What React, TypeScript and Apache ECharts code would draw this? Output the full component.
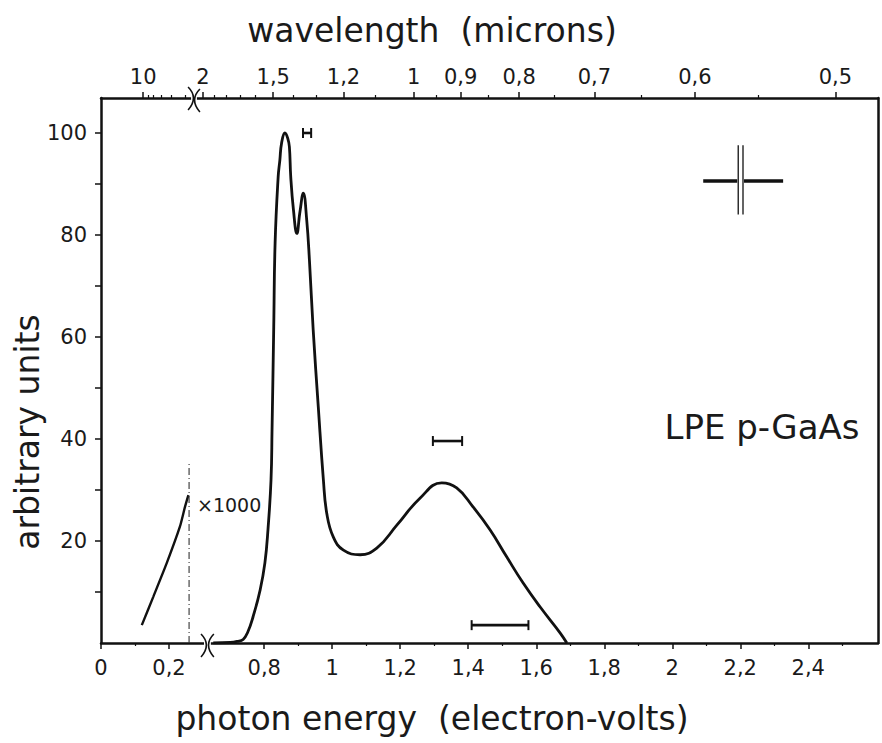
import React, { useEffect, useRef } from "react";
import * as echarts from "echarts";

// ---- axis break: energies above the break are shifted left by SHIFT (display coordinate u)
const SHIFT = 0.32;
const LEFT_SEGMENT_END = 0.29;
const HC = 1.2398; // photon energy (eV) * wavelength (µm)

// low-energy part, scaled ×1000
const lowEnergy = [0.12, 0.154, 0.193, 0.232, 0.247, 0.257];
const lowSignal = [3.5, 9.1, 15.6, 22.8, 26.7, 29.0];
const markerEnergy = 0.259;
const markerTop = 35.3;

// main spectrum
const energy = [
  0.65, 0.7, 0.72, 0.738, 0.752, 0.767, 0.788, 0.802, 0.811, 0.82, 0.823, 0.828,
  0.832, 0.841, 0.846, 0.851, 0.861, 0.869, 0.874, 0.878, 0.886, 0.896, 0.905,
  0.915, 0.925, 0.933, 0.944, 0.959, 0.974, 0.984, 1.003, 1.033, 1.082, 1.131,
  1.19, 1.258, 1.322, 1.366, 1.414, 1.464, 1.513, 1.561, 1.611, 1.67, 1.69,
];
const signal = [
  0, 0.1, 0.3, 0.7, 2.2, 5.1, 10.4, 15.7, 22.2, 32, 41.8, 62,
  78.4, 91.4, 94.7, 98, 100, 99, 97.3, 91.4, 84.9, 80.3, 84.5,
  88.2, 82.9, 75, 61.4, 46.3, 32, 25.4, 20.8, 18.2, 17.3, 18.6,
  23.1, 28.4, 31.4, 30.4, 26.7, 22.2, 16.9, 11.8, 7.1, 2, 0,
];

// resolution bars: [low energy, high energy, level]
const barLow = [0.914, 1.296, 1.41];
const barHigh = [0.938, 1.382, 1.577];
const barLevel = [100, 39.6, 3.5];

// cross symbol
const crossH = [2.091, 2.326, 90.6];
const crossV = [2.194, 2.208];
const crossVRange = [84.0, 97.6];

// ticks
const bottomTickEnergies = [0, 0.2, 0.8, 1, 1.2, 1.4, 1.6, 1.8, 2, 2.2, 2.4];
const bottomTickLabels = ["0", "0,2", "0,8", "1", "1,2", "1,4", "1,6", "1,8", "2", "2,2", "2,4"];
const bottomMinorEnergies = [0.1, 0.9, 1.1, 1.3, 1.5, 1.7, 1.9, 2.1, 2.3, 2.5];
const wavelengthTicks = [10, 2, 1.5, 1.2, 1, 0.9, 0.8, 0.7, 0.6, 0.5];
const wavelengthLabels = ["10", "2", "1,5", "1,2", "1", "0,9", "0,8", "0,7", "0,6", "0,5"];
const wavelengthMinor = [9, 8, 7, 6, 5, 1.9, 1.8, 1.7, 1.6, 1.4, 1.3, 1.1, 0.95, 0.85, 0.75, 0.65, 0.55];
const yTickValues = [10, 20, 30, 40, 50, 60, 70, 80, 90, 100];
const yLabelValues = [20, 40, 60, 80, 100];

const X_MAX = 2.285;
const Y_MAX = 106.86;
const FONT = "DejaVu Sans";
const INK = "#111";

const toU = (e: number) => (e <= LEFT_SEGMENT_END ? e : e - SHIFT);
const key = (u: number) => u.toFixed(4);

export default function App() {
  const ref = useRef<HTMLDivElement>(null);

  useEffect(() => {
    if (!ref.current) return;
    const chart = echarts.init(ref.current, null, { renderer: "svg" });

    const bottomMap: Record<string, string> = {};
    bottomTickEnergies.forEach((e, i) => (bottomMap[key(toU(e))] = bottomTickLabels[i]));
    const topMap: Record<string, string> = {};
    const topValues = wavelengthTicks.map((l, i) => {
      const u = toU(HC / l);
      topMap[key(u)] = wavelengthLabels[i];
      return u;
    });
    const topMinor = wavelengthMinor.map((l) => toU(HC / l));
    const bottomValues = bottomTickEnergies.map(toU);
    const bottomMinor = bottomMinorEnergies.map(toU);

    const mainData = energy.map((e, i) => [toU(e), signal[i]]);
    const lowData = lowEnergy.map((e, i) => [toU(e), lowSignal[i]]);
    const barData = barLow.map((lo, i) => [toU(lo), toU(barHigh[i]), barLevel[i]]);

    const axisLine = { show: true, onZero: false, lineStyle: { color: INK, width: 2.5 } };
    const noLine = { show: false, onZero: false };
    const labelStyle = { fontFamily: FONT, fontSize: 21, color: "#1a1a1a" };

    const option: any = {
      animation: false,
      grid: { left: 101, right: 4, top: 98, bottom: 100 },
      xAxis: [
        {
          type: "value", position: "bottom", min: 0, max: X_MAX,
          axisLine, splitLine: { show: false },
          axisTick: { show: true, customValues: bottomValues, length: 6, lineStyle: { color: INK, width: 1.5 } },
          axisLabel: { ...labelStyle, margin: 14, customValues: bottomValues, formatter: (v: number) => bottomMap[key(v)] ?? "" },
        },
        {
          type: "value", position: "top", min: 0, max: X_MAX,
          axisLine, splitLine: { show: false },
          axisTick: { show: true, customValues: topValues, length: 6, lineStyle: { color: INK, width: 1.5 } },
          axisLabel: { ...labelStyle, margin: 11, customValues: topValues, formatter: (v: number) => topMap[key(v)] ?? "" },
        },
        {
          type: "value", position: "bottom", min: 0, max: X_MAX,
          axisLine: noLine, splitLine: { show: false }, axisLabel: { show: false },
          axisTick: { show: true, customValues: bottomMinor, length: 3, lineStyle: { color: INK, width: 1.2 } },
        },
        {
          type: "value", position: "top", min: 0, max: X_MAX,
          axisLine: noLine, splitLine: { show: false }, axisLabel: { show: false },
          axisTick: { show: true, customValues: topMinor, length: 3, lineStyle: { color: INK, width: 1.2 } },
        },
      ],
      yAxis: [
        {
          type: "value", position: "left", min: 0, max: Y_MAX,
          axisLine, splitLine: { show: false },
          axisTick: { show: true, customValues: yTickValues, length: 6, lineStyle: { color: INK, width: 1.5 } },
          axisLabel: { ...labelStyle, margin: 14, customValues: yLabelValues },
        },
        {
          type: "value", position: "right", min: 0, max: Y_MAX,
          axisLine, splitLine: { show: false }, axisTick: { show: false }, axisLabel: { show: false },
        },
      ],
      series: [
        {
          type: "line", data: mainData, smooth: 0.45, symbol: "none",
          lineStyle: { color: INK, width: 2.8 },
        },
        {
          type: "line", data: lowData, smooth: 0.2, symbol: "none",
          lineStyle: { color: INK, width: 2.4 },
        },
        {
          type: "line", data: [[toU(markerEnergy), 0], [toU(markerEnergy), markerTop]], symbol: "none",
          lineStyle: { color: "#333", width: 1.1, type: [7, 3, 1, 3] },
        },
        {
          type: "custom", data: barData, clip: false,
          encode: { x: [0, 1], y: 2 },
          renderItem: (_p: any, api: any) => {
            const a = api.coord([api.value(0), api.value(2)]);
            const b = api.coord([api.value(1), api.value(2)]);
            const st = { stroke: INK, lineWidth: 2.6 };
            return {
              type: "group",
              children: [
                { type: "line", shape: { x1: a[0], y1: a[1], x2: b[0], y2: b[1] }, style: st },
                { type: "line", shape: { x1: a[0], y1: a[1] - 5, x2: a[0], y2: a[1] + 5 }, style: { stroke: INK, lineWidth: 2 } },
                { type: "line", shape: { x1: b[0], y1: b[1] - 5, x2: b[0], y2: b[1] + 5 }, style: { stroke: INK, lineWidth: 2 } },
              ],
            };
          },
        },
        {
          type: "custom", data: [[toU(crossH[0]), toU(crossH[1]), crossH[2]]], clip: false,
          encode: { x: [0, 1], y: 2 },
          renderItem: (_p: any, api: any) => {
            const l = api.coord([api.value(0), api.value(2)]);
            const r = api.coord([api.value(1), api.value(2)]);
            const v1t = api.coord([toU(crossV[0]), crossVRange[1]]);
            const v1b = api.coord([toU(crossV[0]), crossVRange[0]]);
            const v2t = api.coord([toU(crossV[1]), crossVRange[1]]);
            const v2b = api.coord([toU(crossV[1]), crossVRange[0]]);
            const thick = { stroke: INK, lineWidth: 3.5 };
            const thin = { stroke: "#222", lineWidth: 1.4 };
            return {
              type: "group",
              children: [
                { type: "line", shape: { x1: l[0], y1: l[1], x2: v1t[0] - 1, y2: l[1] }, style: thick },
                { type: "line", shape: { x1: v2t[0] + 1, y1: r[1], x2: r[0], y2: r[1] }, style: thick },
                { type: "line", shape: { x1: v1t[0], y1: v1t[1], x2: v1b[0], y2: v1b[1] }, style: thin },
                { type: "line", shape: { x1: v2t[0], y1: v2t[1], x2: v2b[0], y2: v2b[1] }, style: thin },
              ],
            };
          },
        },
      ],
    };
    chart.setOption(option);

    const px = (u: number, v: number) => chart.convertToPixel({ xAxisIndex: 0, yAxisIndex: 0 }, [u, v]) as number[];
    const base = px(0, 0)[1];
    const top = px(0, Y_MAX)[1];
    const bx1 = px(0.3, 0)[0];
    const bx2 = px(0.326, 0)[0];
    const tx1 = px(0.262, 0)[0];
    const tx2 = px(0.285, 0)[0];
    const paren = (x: number, y: number, dir: number) => ({
      type: "bezierCurve", z: 101,
      shape: { x1: x - 2 * dir, y1: y - 11, cpx1: x + 5 * dir, cpy1: y - 4, cpx2: x + 5 * dir, cpy2: y + 4, x2: x - 2 * dir, y2: y + 12 },
      style: { stroke: INK, lineWidth: 1.6, fill: null },
    });
    const txt = (text: string, x: number, y: number, size: number, extra: any = {}) => ({
      type: "text", z: 102, x, y,
      style: { text, fontFamily: FONT, fontSize: size, fill: "#1a1a1a", align: "center", verticalAlign: "middle" },
      ...extra,
    });

    chart.setOption({
      graphic: [
        { type: "rect", z: 100, shape: { x: bx1 + 1, y: base - 3, width: bx2 - bx1 - 2, height: 6 }, style: { fill: "#fff" } },
        paren(bx1, base + 2, 1),
        paren(bx2, base + 2, -1),
        { type: "rect", z: 100, shape: { x: tx1 + 1, y: top - 3, width: tx2 - tx1 - 2, height: 6 }, style: { fill: "#fff" } },
        paren(tx1, top, 1),
        paren(tx2, top + 2, -1),
        txt("wavelength  (microns)", 432, 30, 33),
        txt("photon energy  (electron-volts)", 432, 718, 33),
        txt("arbitrary units", 27, 432, 33, { rotation: Math.PI / 2 }),
        txt("LPE p-GaAs", 762, 427, 34),
        { type: "text", z: 102, x: 197, y: 505, style: { text: "×1000", fontFamily: FONT, fontSize: 19, fill: "#1a1a1a", align: "left", verticalAlign: "middle" } },
      ],
    });

    return () => chart.dispose();
  }, []);

  return <div ref={ref} style={{ position: "fixed", left: 0, top: 0, width: 882, height: 743, background: "#fff" }} />;
}
